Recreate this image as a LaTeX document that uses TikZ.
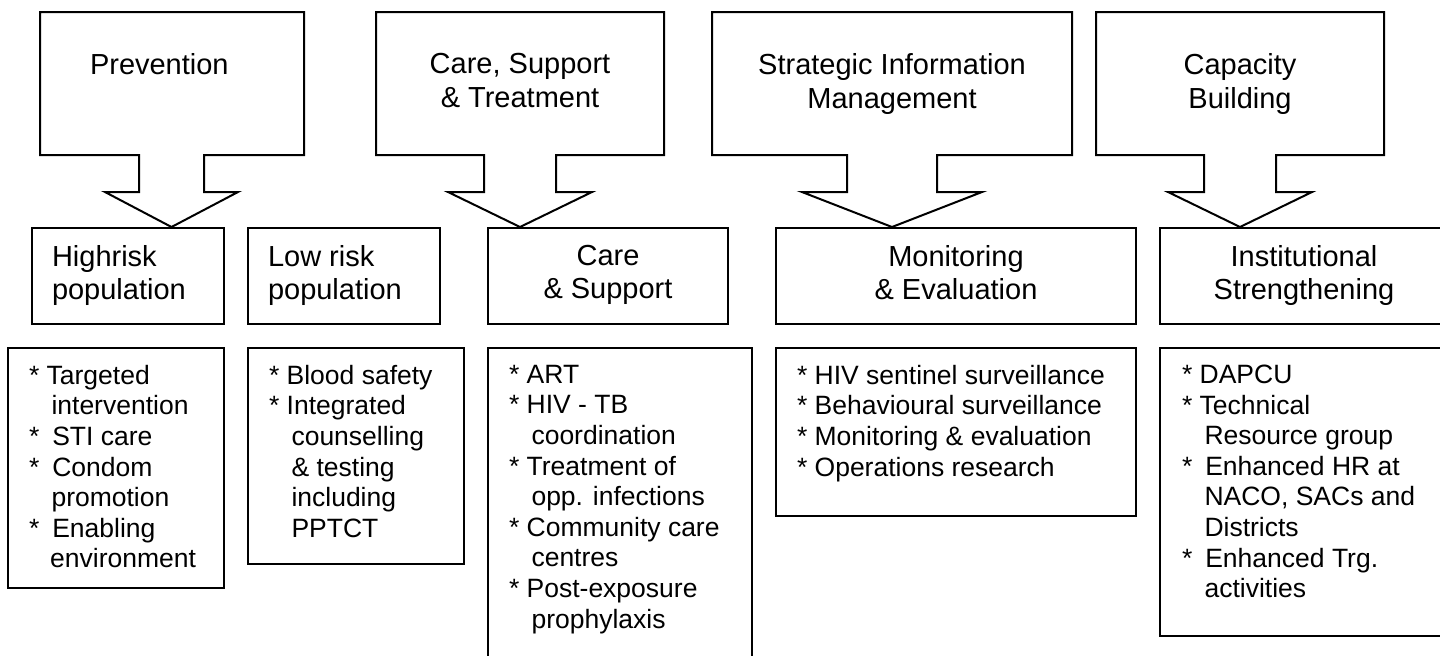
\documentclass[tikz,border=0pt]{standalone}
\usepackage{fontspec}
\setmainfont{Liberation Sans}
\begin{document}
\begin{tikzpicture}[x=0.5pt, y=-0.5pt, line width=1pt,
    head/.style={font=\fontsize{14.5}{17}\selectfont, inner sep=0pt, align=center, anchor=north},
    area/.style={font=\fontsize{14.5}{16.5}\selectfont, inner sep=0pt, align=center, anchor=north},
    areal/.style={area, align=left, anchor=north west},
    items/.style={font=\fontsize{13.25}{15.3}\selectfont, inner sep=0pt, align=left, anchor=north west}]
    \useasboundingbox (0,0) rectangle (1440,655);
    \clip (0,0) rectangle (1440,655);
    % top callout boxes: left/right edge, stem edges, wing width
    \foreach \l/\r/\sa/\sb/\w in {40/304/139/204/34, 376/664/484/556/36, 712/1072/847/937/45, 1096/1384/1204/1276/36} {
        \draw (\l,12) -- (\r,12) -- (\r,155) -- (\sb,155) -- (\sb,192) -- (\sb+\w,192)
            -- ({(\sa+\sb)/2},227) -- (\sa-\w,192) -- (\sa,192) -- (\sa,155) -- (\l,155) -- cycle;
    }
    \node[head, anchor=north west] (prev) at (89,52) {Prevention};
    \node[head] (cst) at (520,52) {Care, Support\\\& Treatment};
    \node[head] (sim) at (892,52) {Strategic Information\\Management};
    \node[head] (capb) at (1240,52) {Capacity\\Building};
    % middle row
    \foreach \l/\r in {32/224, 248/440, 488/728, 776/1136, 1160/1470}
        \draw (\l,228) rectangle (\r,324);
    \node[areal] (hrp) at (51,244) {Highrisk\\population};
    \node[areal] (lrp) at (267,244) {Low risk\\population};
    \node[area] (cs) at (608,244) {Care\\\& Support};
    \node[area] (me) at (956,244) {Monitoring\\\& Evaluation};
    \node[area] (inst) at (1304,244) {Institutional\\Strengthening};
    % bottom row of activity lists
    \foreach \l/\r/\b in {8/224/588, 248/464/564, 488/752/690, 776/1136/516, 1160/1470/636}
        \draw (\l,348) rectangle (\r,\b);
    \node[items] (hrlist) at (28,364) {* Targeted\\
        \hspace*{0.85em}intervention\\
        \makebox[0.88em][l]{*}STI care\\
        \makebox[0.88em][l]{*}Condom\\
        \hspace*{0.85em}promotion\\
        \makebox[0.88em][l]{*}Enabling\\
        \hspace*{0.8em}environment};
    \node[items] (lrlist) at (268,364) {* Blood safety\\
        * Integrated\\
        \hspace*{0.85em}counselling\\
        \hspace*{0.85em}\& testing\\
        \hspace*{0.85em}including\\
        \hspace*{0.85em}PPTCT};
    \node[items] (cslist) at (508,364) {* ART\\
        * HIV - TB\\
        \hspace*{0.85em}coordination\\
        * Treatment of\\
        \hspace*{0.85em}opp. infections\\
        * Community care\\
        \hspace*{0.85em}centres\\
        * Post-exposure\\
        \hspace*{0.85em}prophylaxis};
    \node[items] (melist) at (796,364) {* HIV sentinel surveillance\\
        * Behavioural surveillance\\
        * Monitoring \& evaluation\\
        * Operations research};
    \node[items] (instlist) at (1181,364) {* DAPCU\\
        * Technical\\
        \hspace*{0.85em}Resource group\\
        \makebox[0.88em][l]{*}Enhanced HR at\\
        \hspace*{0.85em}NACO, SACs and\\
        \hspace*{0.85em}Districts\\
        \makebox[0.88em][l]{*}Enhanced Trg.\\
        \hspace*{0.85em}activities};
\end{tikzpicture}
\end{document}
